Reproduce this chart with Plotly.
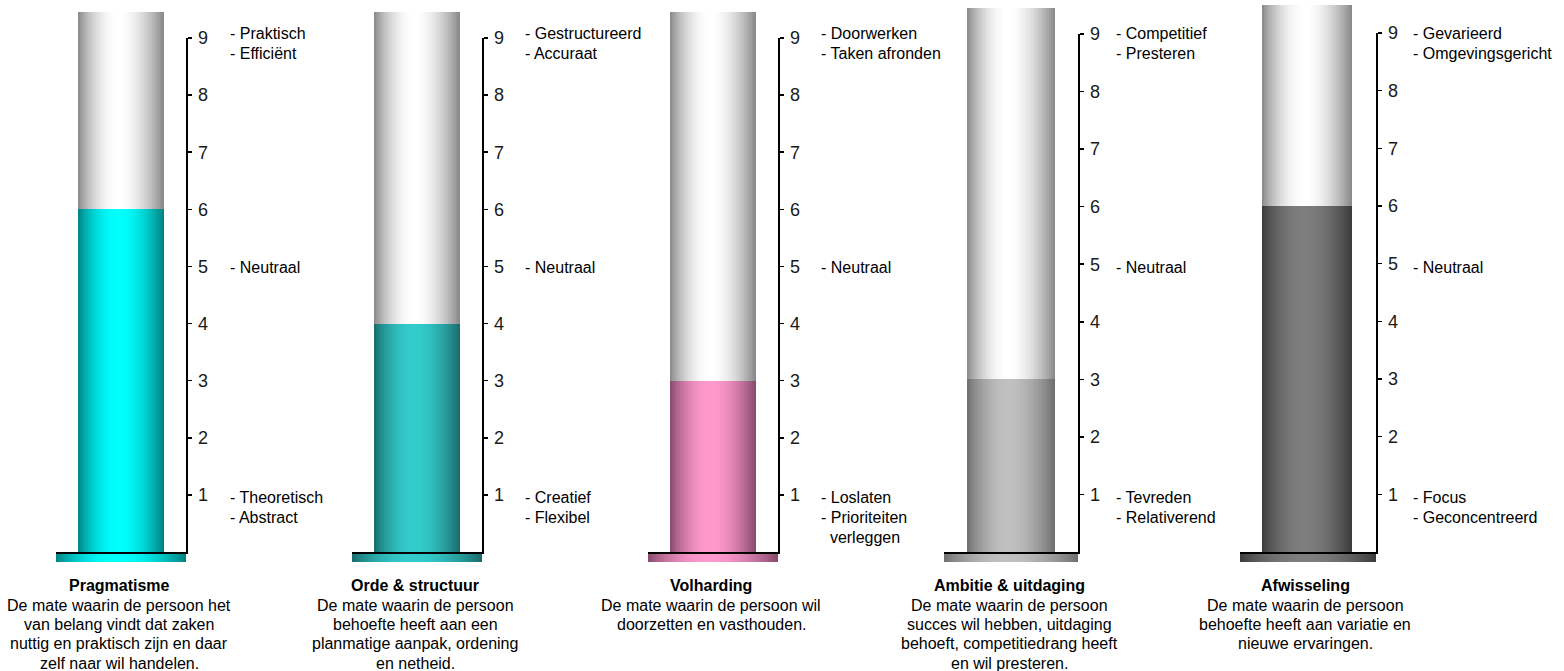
import numpy as np
import plotly.graph_objects as go

# ---------------- data ----------------
categories = ["Pragmatisme", "Orde & structuur", "Volharding", "Ambitie & uitdaging", "Afwisseling"]
scores = [6, 4, 3, 3, 6]
tick_values = [1, 2, 3, 4, 5, 6, 7, 8, 9]
tick_labels = ["1", "2", "3", "4", "5", "6", "7", "8", "9"]
high_labels = [
    ["- Praktisch", "- Efficiënt"],
    ["- Gestructureerd", "- Accuraat"],
    ["- Doorwerken", "- Taken afronden"],
    ["- Competitief", "- Presteren"],
    ["- Gevarieerd", "- Omgevingsgericht"],
]
mid_labels = ["- Neutraal", "- Neutraal", "- Neutraal", "- Neutraal", "- Neutraal"]
low_labels = [
    ["- Theoretisch", "- Abstract"],
    ["- Creatief", "- Flexibel"],
    ["- Loslaten", "- Prioriteiten", "\u00a0\u00a0verleggen"],
    ["- Tevreden", "- Relativerend"],
    ["- Focus", "- Geconcentreerd"],
]
descriptions = [
    ["De mate waarin de persoon het", "van belang vindt dat zaken",
     "nuttig en praktisch zijn en daar", "zelf naar wil handelen."],
    ["De mate waarin de persoon", "behoefte heeft aan een",
     "planmatige aanpak, ordening", "en netheid."],
    ["De mate waarin de persoon wil", "doorzetten en vasthouden."],
    ["De mate waarin de persoon", "succes wil hebben, uitdaging",
     "behoeft, competitiedrang heeft", "en wil presteren."],
    ["De mate waarin de persoon", "behoefte heeft aan variatie en",
     "nieuwe ervaringen."],
]

# ---------------- style / layout constants ----------------
W, H = 1564, 671
FONT = "Arial, Liberation Sans, sans-serif"
fill_center = ["#00FFFF", "#33CCCC", "#FF99CC", "#C0C0C0", "#7E7E7E"]
fill_edge = ["#007E7E", "#1A6868", "#84486A", "#6C6C6C", "#3A3A3A"]
top_center, top_edge = "#FFFFFF", "#858585"

plinth_l = [56, 352, 648, 944, 1240]
axis_x = [186, 482, 778, 1078, 1376]
bar_l = [78, 374, 670, 967, 1262]
bar_r = [164, 460, 756, 1055, 1352]
y_tick9 = [38, 38, 38, 34, 33]
y_zero = 552
y_plinth_bottom = 562
y_bar_top = [12, 12, 12, 8, 5]
label_x = [228, 523, 819, 1114, 1411]


def hex2rgb(h):
    h = h.lstrip("#")
    return np.array([int(h[i:i + 2], 16) for i in (0, 2, 4)], dtype=float)


def gradient(edge, center, n):
    t = (np.arange(n) + 0.5) / n
    u = t ** 0.92
    w = np.sin(np.pi * u) ** 0.9
    e, c = hex2rgb(edge), hex2rgb(center)
    cols = []
    for wi in w:
        r, g, b = e + (c - e) * wi
        cols.append(f"rgb({int(round(r))},{int(round(g))},{int(round(b))})")
    return cols


def py(ypx):
    return 1 - ypx / H


fig = go.Figure()
layout = dict(
    template="none",
    width=W, height=H, autosize=False,
    margin=dict(l=0, r=0, t=0, b=0, pad=0),
    paper_bgcolor="white", plot_bgcolor="rgba(0,0,0,0)",
    showlegend=False, barmode="overlay", bargap=0, bargroupgap=0, hovermode=False,
    font=dict(family=FONT, size=16, color="black"),
)
annotations = []

for i, cat in enumerate(categories):
    n = i + 1
    yb = 2 * i + 1   # hidden axis: cylinder top + plinth
    yv = 2 * i + 2   # visible 1..9 scale: score
    xname = "x" if n == 1 else f"x{n}"
    ybname = "y" if yb == 1 else f"y{yb}"
    yvname = f"y{yv}"
    scale = (y_zero - y_tick9[i]) / 9.0  # px per unit
    low = -(y_plinth_bottom - y_zero) / scale        # plinth below the baseline
    cyl_top = (y_zero - y_bar_top[i]) / scale         # cylinder rises above 9

    # plinth
    npl = int((axis_x[i] - plinth_l[i]) // 2)
    ex = np.linspace(plinth_l[i], axis_x[i], npl + 1)
    fig.add_trace(go.Bar(
        x=(ex[:-1] + ex[1:]) / 2, y=[-low] * npl, base=[low] * npl,
        width=[ex[1] - ex[0]] * npl,
        marker=dict(color=gradient(fill_edge[i], fill_center[i], npl), line=dict(width=0)),
        xaxis=xname, yaxis=ybname, hoverinfo="skip"))
    nb = int((bar_r[i] - bar_l[i]) // 2)
    eb = np.linspace(bar_l[i], bar_r[i], nb + 1)
    xc = (eb[:-1] + eb[1:]) / 2
    wb = [eb[1] - eb[0]] * nb
    # empty (grey) part of the cylinder
    fig.add_trace(go.Bar(
        x=xc, y=[cyl_top - scores[i]] * nb, base=[scores[i]] * nb, width=wb,
        marker=dict(color=gradient(top_edge, top_center, nb), line=dict(width=0)),
        xaxis=xname, yaxis=ybname, hoverinfo="skip"))
    # filled part of the cylinder (score) on the visible scale
    fig.add_trace(go.Bar(
        x=xc, y=[scores[i]] * nb, base=[0] * nb, width=wb,
        marker=dict(color=gradient(fill_edge[i], fill_center[i], nb), line=dict(width=0)),
        xaxis=xname, yaxis=yvname, hoverinfo="skip"))

    xkey = "xaxis" if n == 1 else f"xaxis{n}"
    ybkey = "yaxis" if yb == 1 else f"yaxis{yb}"
    yvkey = f"yaxis{yv}"
    layout[xkey] = dict(
        domain=[plinth_l[i] / W, axis_x[i] / W], range=[plinth_l[i], axis_x[i]],
        anchor=yvname, showline=True, linecolor="black", linewidth=2,
        showgrid=False, zeroline=False, showticklabels=False, ticks="",
        fixedrange=True, automargin=False)
    layout[ybkey] = dict(
        domain=[py(y_plinth_bottom), py(y_bar_top[i])], range=[low, cyl_top],
        anchor=xname, visible=False, showgrid=False, zeroline=False,
        fixedrange=True, automargin=False)
    layout[yvkey] = dict(
        domain=[py(y_zero), py(y_tick9[i])], range=[0, 9],
        anchor=xname, side="right", showline=True, linecolor="black", linewidth=1.5,
        ticks="outside", ticklen=4, tickwidth=1.5, tickcolor="black",
        tickvals=tick_values, ticktext=tick_labels, ticklabelstandoff=3,
        tickfont=dict(family=FONT, size=18, color="#1a1a1a"),
        showgrid=False, zeroline=False, fixedrange=True, automargin=False)

    # side labels
    for k, line in enumerate(high_labels[i]):
        annotations.append(dict(x=label_x[i] / W, y=py(33.5 + 19.5 * k), xref="paper", yref="paper",
                                text=line, showarrow=False, xanchor="left", yanchor="middle",
                                font=dict(family=FONT, size=16, color="black")))
    annotations.append(dict(x=label_x[i] / W, y=py(267), xref="paper", yref="paper",
                            text=mid_labels[i], showarrow=False, xanchor="left", yanchor="middle",
                            font=dict(family=FONT, size=16, color="black")))
    for k, line in enumerate(low_labels[i]):
        annotations.append(dict(x=label_x[i] / W, y=py(497.5 + 20 * k), xref="paper", yref="paper",
                                text=line, showarrow=False, xanchor="left", yanchor="middle",
                                font=dict(family=FONT, size=16, color="black")))
    # title + description below
    cx = (bar_l[i] + bar_r[i]) / 2 - 2
    annotations.append(dict(x=cx / W, y=py(585.5), xref="paper", yref="paper",
                            text=f"<b>{cat}</b>", showarrow=False, xanchor="center", yanchor="middle",
                            font=dict(family=FONT, size=16, color="black")))
    for k, line in enumerate(descriptions[i]):
        annotations.append(dict(x=cx / W, y=py(605 + 19.4 * k), xref="paper", yref="paper",
                                text=line, showarrow=False, xanchor="center", yanchor="middle",
                                font=dict(family=FONT, size=16, color="black")))

layout["annotations"] = annotations
fig.update_layout(**layout)
fig.write_html("out.html", config={"displayModeBar": False, "staticPlot": True},
               post_script="document.body.style.margin='0';document.body.style.overflow='hidden';")
